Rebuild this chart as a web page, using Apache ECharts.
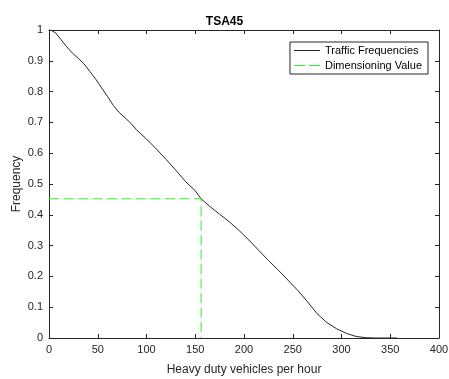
<!DOCTYPE html>
<html><head><meta charset="utf-8">
<script src="https://cdn.jsdelivr.net/npm/echarts@6/dist/echarts.min.js"></script>
<style>html,body{margin:0;padding:0;background:#fff}#c{width:449px;height:379px}</style>
</head><body><div id="c"></div>
<script>
const title = 'TSA45';
const xLabel = 'Heavy duty vehicles per hour';
const yLabel = 'Frequency';
const trafficX = [0,3,7,12,18,24,30,36,42,48,54,60,66,72,78,84,90,100,110,120,130,140,150,156,165,175,185,195,205,215,225,235,245,255,265,275,285,295,305,315,325,335,345,357];
const trafficY = [1.0,0.998,0.99,0.97,0.946,0.925,0.908,0.890,0.865,0.840,0.812,0.784,0.755,0.732,0.715,0.697,0.675,0.646,0.614,0.580,0.545,0.508,0.478,0.452,0.427,0.402,0.377,0.349,0.318,0.285,0.252,0.221,0.188,0.155,0.118,0.079,0.050,0.030,0.015,0.005,0.001,0,0,0];
const dimX = 156;
const dimY = 0.452;
const seriesNames = ['Traffic Frequencies','Dimensioning Value'];

const axisColor = '#262626';
const lineColor = '#262626';
const dimColor = '#2cf02c';
const dash = [10,4.5];
const font = 'Liberation Sans, Arial, sans-serif';
const chart = echarts.init(document.getElementById('c'));
const baseAxis = {
  axisLine:{show:true,onZero:false,lineStyle:{color:axisColor,width:1}},
  axisTick:{show:true,inside:true,length:4,lineStyle:{color:axisColor}},
  splitLine:{show:false}
};
chart.setOption({
  animation:false,
  title:{text:title,left:'center',top:11,textStyle:{fontFamily:font,fontSize:12,fontWeight:'bold',color:'#000'}},
  grid:{left:49,right:10,top:30,bottom:41,outerBoundsMode:'none',containLabel:false},
  legend:{
    right:21,top:42,orient:'vertical',itemWidth:26,itemHeight:10,itemGap:4,
    borderColor:axisColor,borderWidth:1,padding:[3,6,3,4],backgroundColor:'#fff',
    textStyle:{fontFamily:font,fontSize:11,color:'#000'},
    data:[
      {name:seriesNames[0],icon:'path://M0,0h26v1h-26z',itemStyle:{color:lineColor}},
      {name:seriesNames[1],icon:'path://M0,0h11v1h-11zM15,0h11v1h-11z',itemStyle:{color:dimColor}}
    ]
  },
  xAxis:[
    Object.assign({type:'value',min:0,max:400,interval:50,position:'bottom',
      name:xLabel,nameLocation:'middle',nameGap:26,nameMoveOverlap:false,
      nameTextStyle:{fontFamily:font,fontSize:12,color:axisColor},
      axisLabel:{fontFamily:font,fontSize:11,color:axisColor,margin:6}},baseAxis),
    Object.assign({type:'value',min:0,max:400,interval:50,position:'top',axisLabel:{show:false}},baseAxis)
  ],
  yAxis:[
    Object.assign({type:'value',min:0,max:1,interval:0.1,position:'left',
      name:yLabel,nameLocation:'middle',nameGap:26,nameMoveOverlap:false,
      nameTextStyle:{fontFamily:font,fontSize:12,color:axisColor},
      axisLabel:{fontFamily:font,fontSize:11,color:axisColor,margin:6,formatter:v=>String(Math.round(v*10)/10)}},baseAxis),
    Object.assign({type:'value',min:0,max:1,interval:0.1,position:'right',axisLabel:{show:false}},baseAxis)
  ],
  series:[
    {name:seriesNames[0],type:'line',symbol:'none',smooth:false,
      lineStyle:{color:lineColor,width:1},itemStyle:{color:lineColor},
      data:trafficX.map((x,i)=>[x,trafficY[i]])},
    {name:seriesNames[1],type:'line',symbol:'none',
      lineStyle:{color:dimColor,width:1,type:dash},itemStyle:{color:dimColor},
      data:[[0,dimY],[dimX,dimY],[dimX,0]]}
  ]
});
</script></body></html>
